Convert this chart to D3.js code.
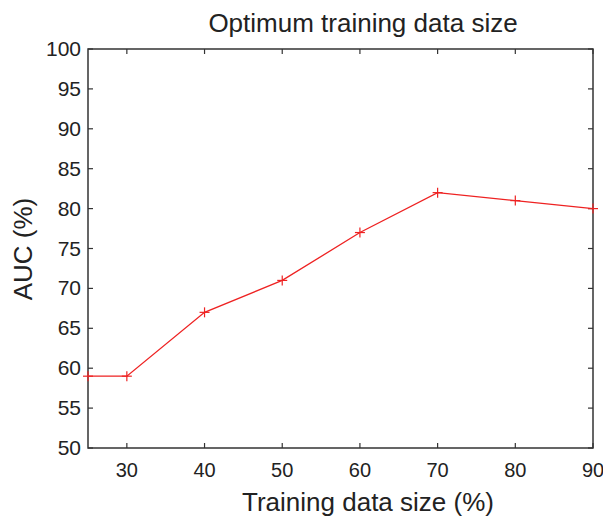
<!DOCTYPE html>
<html>
<head>
<meta charset="utf-8">
<script src="https://cdn.jsdelivr.net/npm/d3@7.9.0/dist/d3.min.js"></script>
<style>
  body { margin: 0; background: #fff; }
  svg text { font-family: "Liberation Sans", Arial, sans-serif; fill: #222; }
</style>
</head>
<body>
<svg id="chart" width="603" height="518"></svg>
<script>
const trainSize = [25, 30, 40, 50, 60, 70, 80, 90];
const auc = [59, 59, 67, 71, 77, 82, 81, 80];
const xTicks = [30, 40, 50, 60, 70, 80, 90];
const yTicks = [50, 55, 60, 65, 70, 75, 80, 85, 90, 95, 100];

const svg = d3.select('#chart');
const plotL = 88, plotR = 593, plotT = 49, plotB = 448;

const x = d3.scaleLinear().domain([25, 90]).range([plotL, plotR]);
const y = d3.scaleLinear().domain([50, 100]).range([plotB, plotT]);

const axisColor = '#333';
const tickLen = 5;

// box
svg.append('rect')
    .attr('x', plotL).attr('y', plotT)
    .attr('width', plotR - plotL).attr('height', plotB - plotT)
    .attr('fill', 'none')
    .attr('stroke', axisColor)
    .attr('stroke-width', 1.5);

// inward ticks on all four sides
let ticks = svg.append('g').attr('stroke', axisColor).attr('stroke-width', 1.2);
xTicks.forEach(t => {
  ticks.append('line').attr('x1', x(t)).attr('x2', x(t)).attr('y1', plotB).attr('y2', plotB - tickLen);
  ticks.append('line').attr('x1', x(t)).attr('x2', x(t)).attr('y1', plotT).attr('y2', plotT + tickLen);
});
yTicks.forEach(t => {
  ticks.append('line').attr('x1', plotL).attr('x2', plotL + tickLen).attr('y1', y(t)).attr('y2', y(t));
  ticks.append('line').attr('x1', plotR).attr('x2', plotR - tickLen).attr('y1', y(t)).attr('y2', y(t));
});

// tick labels
svg.append('g').selectAll('text')
  .data(xTicks)
  .join('text')
    .attr('x', d => x(d))
    .attr('y', plotB + 29)
    .attr('text-anchor', 'middle')
    .attr('font-size', 20)
    .text(d => d);

svg.append('g').selectAll('text')
  .data(yTicks)
  .join('text')
    .attr('x', plotL - 7)
    .attr('y', d => y(d) + 7)
    .attr('text-anchor', 'end')
    .attr('font-size', 21)
    .text(d => d);

// line
const data = trainSize.map((s, i) => ({ s, v: auc[i] }));
svg.append('path')
    .datum(data)
    .attr('fill', 'none')
    .attr('stroke', '#ee2222')
    .attr('stroke-width', 1.3)
    .attr('d', d3.line().x(d => x(d.s)).y(d => y(d.v)));

// plus markers
const m = 5;
let marks = svg.append('g').attr('stroke', '#ee2222').attr('stroke-width', 1.2);
data.forEach(d => {
  marks.append('line').attr('x1', x(d.s) - m).attr('x2', x(d.s) + m).attr('y1', y(d.v)).attr('y2', y(d.v));
  marks.append('line').attr('x1', x(d.s)).attr('x2', x(d.s)).attr('y1', y(d.v) - m).attr('y2', y(d.v) + m);
});

// titles
svg.append('text')
    .attr('x', 363).attr('y', 32)
    .attr('text-anchor', 'middle')
    .attr('font-size', 26)
    .text('Optimum training data size');

svg.append('text')
    .attr('x', 368).attr('y', 511)
    .attr('text-anchor', 'middle')
    .attr('font-size', 26)
    .text('Training data size (%)');

svg.append('text')
    .attr('transform', 'translate(32,249) rotate(-90)')
    .attr('text-anchor', 'middle')
    .attr('font-size', 26)
    .text('AUC (%)');
</script>
</body>
</html>
